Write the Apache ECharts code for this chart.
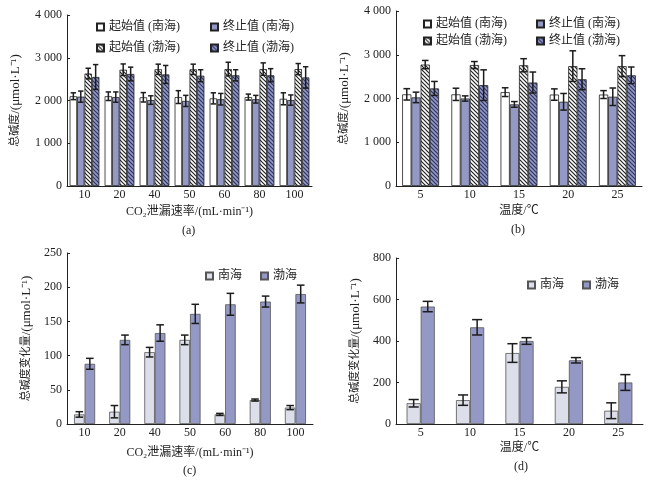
<!DOCTYPE html>
<html>
<head>
<meta charset="utf-8">
<script src="https://cdn.jsdelivr.net/npm/echarts@6/dist/echarts.min.js"></script>
<style>
  html, body { margin: 0; padding: 0; background: #fff; }
  #myChart { width: 654px; height: 483px; }
</style>
</head>
<body>
<div id="myChart"></div>
<script>
var FONT = '"Liberation Serif", "Noto Sans CJK SC", serif';

// (a) CO2 leak rate
var catsRate = ['10', '20', '40', '50', '60', '80', '100'];
var aStartNan = [2100, 2100, 2075, 2080, 2050, 2080, 2040];
var aStartNanErr = [80, 100, 110, 150, 130, 70, 140];
var aEndNan = [2090, 2080, 2010, 1990, 2030, 2030, 2010];
var aEndNanErr = [130, 120, 100, 130, 135, 90, 120];
var aStartBo = [2630, 2720, 2730, 2730, 2735, 2735, 2735];
var aStartBoErr = [125, 135, 120, 120, 160, 145, 130];
var aEndBo = [2550, 2620, 2610, 2580, 2590, 2590, 2540];
var aEndBoErr = [290, 160, 210, 140, 130, 155, 250];

// (b) temperature
var catsTemp = ['5', '10', '15', '20', '25'];
var bStartNan = [2095, 2095, 2145, 2090, 2090];
var bStartNanErr = [130, 140, 100, 130, 90];
var bEndNan = [2025, 2000, 1865, 1925, 2040];
var bEndNanErr = [120, 60, 65, 190, 200];
var bStartBo = [2775, 2765, 2760, 2740, 2740];
var bStartBoErr = [95, 80, 150, 350, 240];
var bEndBo = [2230, 2305, 2365, 2440, 2530];
var bEndBoErr = [160, 350, 240, 240, 190];

// (c) change vs leak rate
var cNan = [14, 18, 105, 123, 14, 35, 24];
var cNanErr = [4, 9, 7, 7, 1.5, 1.5, 3];
var cBo = [88, 123, 133, 161, 175, 179, 190];
var cBoErr = [8, 7, 12, 14, 16, 8, 13];

// (d) change vs temperature
var dNan = [100, 115, 342, 179, 64];
var dNanErr = [18, 25, 45, 29, 38];
var dBo = [566, 466, 400, 307, 200];
var dBoErr = [25, 37, 16, 13, 38];

var BLUE = '#9399c4';
var LIGHT = '#dcdeea';

function hatch(bg, fg) {
    var c = document.createElement('canvas');
    c.width = 4; c.height = 4;
    var g = c.getContext('2d');
    g.fillStyle = bg;
    g.fillRect(0, 0, 4, 4);
    g.strokeStyle = fg;
    g.lineWidth = 1.2;
    g.beginPath();
    g.moveTo(-1, -1); g.lineTo(5, 5);
    g.moveTo(-1, 3); g.lineTo(1, 5);
    g.moveTo(3, -1); g.lineTo(5, 1);
    g.stroke();
    return c;
}
var hatchWhite = { image: hatch('#ffffff', '#222222'), repeat: 'repeat' };
var hatchBlue = { image: hatch(BLUE, '#2e3463'), repeat: 'repeat' };

function thousand(v) {
    return String(v).replace(/\B(?=(\d{3})+(?!\d))/g, ' ');
}

var nameRich = {
    c: { fontSize: 11, fontFamily: FONT, color: '#222' },
    l: { fontSize: 13, fontFamily: FONT, color: '#222' }
};

function xAx(gi, cats, name, gap) {
    return {
        type: 'category', gridIndex: gi, data: cats,
        name: name, nameLocation: 'middle', nameGap: gap,
        nameTextStyle: { color: '#222', fontSize: 12, fontFamily: FONT },
        axisLine: { lineStyle: { color: '#222', width: 1 } },
        axisTick: { inside: true, length: 3, lineStyle: { color: '#222' } },
        axisLabel: { color: '#222', fontSize: 12, margin: 3, fontFamily: FONT }
    };
}

function yAx(gi, max, interval, name, gap) {
    return {
        type: 'value', gridIndex: gi, min: 0, max: max, interval: interval,
        name: name, nameLocation: 'middle', nameGap: gap, nameRotate: 90,
        nameTextStyle: { color: '#222', fontSize: 13, fontFamily: FONT, rich: nameRich },
        axisLine: { show: true, lineStyle: { color: '#222', width: 1 } },
        axisTick: { show: true, inside: true, length: 3, lineStyle: { color: '#222' } },
        axisLabel: { color: '#222', fontSize: 12, margin: 5, fontFamily: FONT, formatter: thousand },
        splitLine: { show: false }
    };
}

function bar(name, data, gi, color, gap, border) {
    return {
        type: 'bar', name: name, data: data,
        xAxisIndex: gi, yAxisIndex: gi,
        barGap: '0%', barCategoryGap: gap,
        itemStyle: { color: color, borderColor: border, borderWidth: 0.8 }
    };
}

// error bars drawn next to the matching bar inside its category band
function err(name, vals, errs, gi, n, idx, gap) {
    var g = parseFloat(gap) / 100;
    return {
        type: 'custom', name: name, xAxisIndex: gi, yAxisIndex: gi, z: 5,
        data: vals.map(function (v, i) { return [i, v, errs[i]]; }),
        encode: { x: 0, y: 1 },
        renderItem: function (params, api) {
            var x = api.value(0), y = api.value(1), e = api.value(2);
            var c = api.coord([x, y]);
            var band = api.size([1, 0])[0];
            var bw = band * (1 - g) / n;
            var cx = c[0] - band * (1 - g) / 2 + (idx + 0.5) * bw;
            var top = api.coord([x, y + e])[1];
            var bot = api.coord([x, y - e])[1];
            var hw = bw * 0.36;
            var st = { stroke: '#1c1c1c', lineWidth: 1.5 };
            return {
                type: 'group',
                children: [
                    { type: 'line', shape: { x1: cx, y1: top, x2: cx, y2: bot }, style: st },
                    { type: 'line', shape: { x1: cx - hw, y1: top, x2: cx + hw, y2: top }, style: st },
                    { type: 'line', shape: { x1: cx - hw, y1: bot, x2: cx + hw, y2: bot }, style: st }
                ]
            };
        }
    };
}

function leg(name, left, top, size) {
    return {
        data: [name], left: left, top: top, padding: 0,
        icon: 'rect', itemWidth: 7, itemHeight: 7, itemGap: 0,
        textStyle: { color: '#222', fontSize: size, fontFamily: FONT },
        selectedMode: false
    };
}

var N1 = '起始值 (南海)', N2 = '终止值 (南海)', N3 = '起始值 (渤海)', N4 = '终止值 (渤海)';
var gapA = '15%', gapB = '25%', gapC = '40%', gapD = '43%';
var yName = '{c|总碱度}{l|/(μmol·L⁻¹)}';
var yName2 = '{c|总碱度变化量}{l|/(μmol·L⁻¹)}';
var xRate = 'CO₂泄漏速率/(mL·min⁻¹)';
var xTemp = '温度/℃';

var myChart = echarts.init(document.querySelector('#myChart'));

option = {
    animation: false,
    backgroundColor: '#fff',
    textStyle: { fontFamily: FONT },
    grid: [
        { left: 67, top: 15, width: 245, height: 171 },
        { left: 396, top: 11, width: 246, height: 175 },
        { left: 67, top: 253, width: 246, height: 171 },
        { left: 396, top: 258, width: 247, height: 166 }
    ],
    xAxis: [
        xAx(0, catsRate, xRate, 20),
        xAx(1, catsTemp, xTemp, 19),
        xAx(2, catsRate, xRate, 23),
        xAx(3, catsTemp, xTemp, 18)
    ],
    yAxis: [
        yAx(0, 4000, 1000, yName, 45),
        yAx(1, 4000, 1000, yName, 45),
        yAx(2, 250, 50, yName2, 34),
        yAx(3, 800, 200, yName2, 34)
    ],
    legend: [
        leg(N1, 96, 21, 12), leg(N2, 210, 21, 12),
        leg(N3, 96, 42, 12), leg(N4, 210, 42, 12),
        leg(N1, 423, 18, 12), leg(N2, 536, 18, 12),
        leg(N3, 423, 35, 12), leg(N4, 536, 35, 12),
        leg('南海', 205, 270, 12), leg('渤海', 260, 270, 12),
        leg('南海', 527, 279, 12), leg('渤海', 582, 279, 12)
    ],
    series: [
        bar(N1, aStartNan, 0, '#ffffff', gapA, '#222'),
        bar(N2, aEndNan, 0, BLUE, gapA, '#222'),
        bar(N3, aStartBo, 0, hatchWhite, gapA, '#222'),
        bar(N4, aEndBo, 0, hatchBlue, gapA, '#222'),
        err(N1, aStartNan, aStartNanErr, 0, 4, 0, gapA),
        err(N2, aEndNan, aEndNanErr, 0, 4, 1, gapA),
        err(N3, aStartBo, aStartBoErr, 0, 4, 2, gapA),
        err(N4, aEndBo, aEndBoErr, 0, 4, 3, gapA),

        bar(N1, bStartNan, 1, '#ffffff', gapB, '#222'),
        bar(N2, bEndNan, 1, BLUE, gapB, '#222'),
        bar(N3, bStartBo, 1, hatchWhite, gapB, '#222'),
        bar(N4, bEndBo, 1, hatchBlue, gapB, '#222'),
        err(N1, bStartNan, bStartNanErr, 1, 4, 0, gapB),
        err(N2, bEndNan, bEndNanErr, 1, 4, 1, gapB),
        err(N3, bStartBo, bStartBoErr, 1, 4, 2, gapB),
        err(N4, bEndBo, bEndBoErr, 1, 4, 3, gapB),

        bar('南海', cNan, 2, LIGHT, gapC, '#555'),
        bar('渤海', cBo, 2, BLUE, gapC, '#555'),
        err('南海', cNan, cNanErr, 2, 2, 0, gapC),
        err('渤海', cBo, cBoErr, 2, 2, 1, gapC),

        bar('南海', dNan, 3, LIGHT, gapD, '#555'),
        bar('渤海', dBo, 3, BLUE, gapD, '#555'),
        err('南海', dNan, dNanErr, 3, 2, 0, gapD),
        err('渤海', dBo, dBoErr, 3, 2, 1, gapD)
    ],
    graphic: [
        { type: 'text', left: 182, top: 225, style: { text: '(a)', fontSize: 12, fontFamily: FONT, fill: '#222' } },
        { type: 'text', left: 511, top: 224, style: { text: '(b)', fontSize: 12, fontFamily: FONT, fill: '#222' } },
        { type: 'text', left: 183, top: 465, style: { text: '(c)', fontSize: 12, fontFamily: FONT, fill: '#222' } },
        { type: 'text', left: 514, top: 461, style: { text: '(d)', fontSize: 12, fontFamily: FONT, fill: '#222' } }
    ]
};

myChart.setOption(option);
</script>
</body>
</html>
